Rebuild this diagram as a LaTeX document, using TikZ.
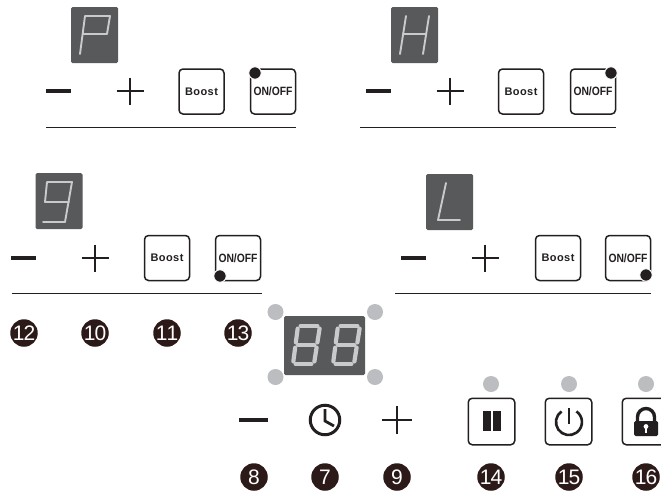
\documentclass[tikz,border=0pt]{standalone}
\usepackage{fontspec}
\setmainfont{Liberation Sans}
\usetikzlibrary{calc}
\definecolor{panelgray}{HTML}{58595B}
\definecolor{segline}{HTML}{C9CACC}
\definecolor{ledgray}{HTML}{BCBDC0}
\definecolor{ink}{HTML}{231F20}
\definecolor{badge}{HTML}{2B1A17}
\tikzset{
  display/.style={fill=panelgray,rounded corners=1.5pt,minimum width=47pt,minimum height=56pt,inner sep=0pt},
  centerdisplay/.style={fill=panelgray,rounded corners=1.5pt,minimum width=81pt,minimum height=59pt,inner sep=0pt},
  btn/.style={draw=ink,line width=1.5pt,fill=white,rounded corners=4pt,minimum width=45pt,minimum height=45pt,inner sep=0pt},
  btnlabelb/.style={font=\bfseries\fontsize{11}{12}\selectfont,text=ink},
  btnlabelo/.style={font=\bfseries\fontsize{12}{12}\selectfont,text=ink},
  statusdot/.style={circle,fill=ink,draw=white,line width=1pt,minimum size=12.5pt,inner sep=0pt},
  led/.style={circle,fill=ledgray,minimum size=16pt,inner sep=0pt},
  num/.style={circle,fill=badge,text=white,minimum size=27.5pt,inner sep=0pt,font=\fontsize{21}{21}\selectfont},
  minusbar/.style={line width=3.8pt,draw=ink},
  plusbar/.style={line width=2.95pt,draw=ink},
  sep/.style={line width=1pt,draw=ink},
  seg/.style={line width=1.9pt,draw=segline,line cap=round,line join=round},
  bigseg/.style={line width=4.2pt,draw=segline,line cap=round,shorten >=2.6pt,shorten <=2.6pt},
}
\newcommand{\spaced}[1]{\addfontfeatures{LetterSpace=4}#1}
\newcommand{\tight}[1]{\scalebox{0.86}[1]{#1}}
\newcommand{\minusplus}[3]{% minus start x, plus centre x, y
  \draw[minusbar] (#1,#3) -- ++(25,0);
  \draw[plusbar] (#2-13.5,#3) -- (#2+13.5,#3);
  \draw[plusbar] (#2,#3-13.5) -- (#2,#3+13.5);
}
\newcommand{\bigeight}[1]{%
  \begin{scope}[xshift=#1pt]
    \coordinate (tl) at (298,326); \coordinate (tr) at (320,326);
    \coordinate (ml) at (295.5,345); \coordinate (mr) at (317,345);
    \coordinate (bl) at (293,364); \coordinate (br) at (314,364);
    \draw[bigseg] (tl)--(tr); \draw[bigseg] (ml)--(mr); \draw[bigseg] (bl)--(br);
    \draw[bigseg] (tl)--(ml); \draw[bigseg] (ml)--(bl);
    \draw[bigseg] (tr)--(mr); \draw[bigseg] (mr)--(br);
  \end{scope}}
\begin{document}
\begin{tikzpicture}[x=1pt,y=-1pt]
\useasboundingbox (0,0) rectangle (661,490);
\fill[white] (0,0) rectangle (661,490);

% Panel P
\node[display] (dispP) at (94.5,35) {};
\draw[seg] (80,54) -- (85,16) -- (110,16) -- (107,34) -- (83,34);
\minusplus{46}{130}{91}
\node[btn,btnlabelb] (boostP) at (201.5,91.5) {\spaced{Boost}};
\node[btn,btnlabelo] (onP) at (273,91.5) {\tight{ON/OFF}};
\node[statusdot] (dotP) at (255,73) {};
\draw[sep] (46,127) -- (296,127);

% Panel H
\node[display] (dispH) at (414.5,35) {};
\draw[seg] (406,16) -- (400,54); \draw[seg] (429,16) -- (423,54); \draw[seg] (403,34) -- (426,34);
\minusplus{366}{450}{91}
\node[btn,btnlabelb] (boostH) at (521,91.5) {\spaced{Boost}};
\node[btn,btnlabelo] (onH) at (593,91.5) {\tight{ON/OFF}};
\node[statusdot] (dotH) at (611,73) {};
\draw[sep] (360,127) -- (616,127);

% Panel 9
\node[display] (disp9) at (59,201) {};
\draw[seg] (65,222) -- (43,222);
\draw[seg] (45,202) -- (47,182) -- (72,182) -- (65,222);
\draw[seg] (45,202) -- (69,202);
\minusplus{11}{95}{258}
\node[btn,btnlabelb] (boost9) at (167,258) {\spaced{Boost}};
\node[btn,btnlabelo] (on9) at (238,258) {\tight{ON/OFF}};
\node[statusdot] (dot9) at (220,276) {};
\draw[sep] (12,293) -- (262,293);

% Panel L
\node[display] (dispL) at (449.5,202) {};
\draw[seg] (446,183) -- (438,220) -- (460,220);
\minusplus{401}{485}{258}
\node[btn,btnlabelb] (boostL) at (558,258) {\spaced{Boost}};
\node[btn,btnlabelo] (onL) at (628,258) {\tight{ON/OFF}};
\node[statusdot] (dotL) at (646,275) {};
\draw[sep] (395,293) -- (651,293);

% Badges left row
\node[num] (n12) at (24,333) {1\kern-1pt2};
\node[num] (n10) at (95,333) {1\kern-1pt0};
\node[num] (n11) at (167,333) {1\kern-1pt1};
\node[num] (n13) at (238,333) {1\kern-1pt3};

% Centre display
\node[centerdisplay] (dispC) at (324.5,345.5) {};
\bigeight{0}
\bigeight{40}
\node[led] (ledA) at (275.5,312) {};
\node[led] (ledB) at (375,312) {};
\node[led] (ledC) at (275.5,377) {};
\node[led] (ledD) at (375,377) {};

% Timer row
\draw[minusbar] (239,420) -- (268,420);
\node[circle,draw=ink,line width=3pt,minimum size=29.5pt,inner sep=0pt] (clock) at (325,420) {};
\draw[ink,line width=2.8pt,line join=miter] (325,409) -- (325,421) -- (334,426);
\draw[plusbar] (382,420) -- (412,420);
\draw[plusbar] (397,406) -- (397,434);
\node[num] (n8) at (254,477) {8};
\node[num] (n7) at (325,477) {7};
\node[num] (n9) at (397,477) {9};

% Right buttons
\node[led] (ledP) at (491,384) {};
\node[led] (ledO) at (569,384) {};
\node[led] (ledK) at (646,384) {};
\node[btn,minimum width=46.5pt,minimum height=46.5pt] (pausebtn) at (491.5,421.5) {};
\node[btn,minimum width=46.5pt,minimum height=46.5pt] (powerbtn) at (568.5,421.5) {};
\node[btn,minimum width=46.5pt,minimum height=46.5pt] (lockbtn) at (645.5,421.5) {};
\fill[ink] (483,411) rectangle (491,431);
\fill[ink] (492.5,411) rectangle (500.5,431);
\draw[ink,line width=2.6pt] (561.5,411.4) arc[start angle=-125,end angle=-415,radius=13];
\draw[ink,line width=2.6pt] (569,408) -- (569,424);
\draw[ink,line width=3.4pt] (637.5,424) -- (637.5,417) arc[start angle=180,end angle=360,radius=8.5] -- (654.5,424);
\fill[ink,rounded corners=1.5pt] (634,421) rectangle (658,436);
\fill[white] (646,426.5) circle[radius=2.4];
\fill[white] (645,427) rectangle (647,433);
\node[num] (n14) at (491,477) {1\kern-1pt4};
\node[num] (n15) at (569,477) {1\kern-1pt5};
\node[num] (n16) at (646,477) {1\kern-1pt6};
\end{tikzpicture}
\end{document}
